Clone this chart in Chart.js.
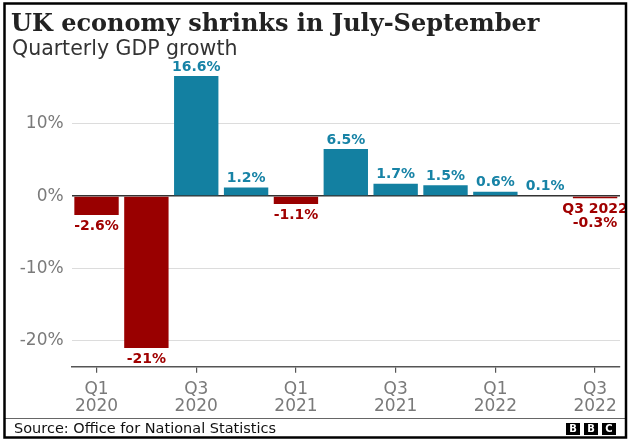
<!DOCTYPE html>
<html>
<head>
<meta charset="utf-8">
<title>UK economy shrinks in July-September</title>
<script src="https://cdn.jsdelivr.net/npm/chart.js@4.4.0/dist/chart.umd.min.js"></script>
<style>
  html, body { margin: 0; padding: 0; background: #fff; }
  canvas { display: block; }
</style>
</head>
<body>
<canvas id="myChart" width="629" height="440"></canvas>
<script>
// quarterly GDP growth, % change on previous quarter
const quarters = ['Q1 2020', 'Q2 2020', 'Q3 2020', 'Q4 2020', 'Q1 2021', 'Q2 2021',
                  'Q3 2021', 'Q4 2021', 'Q1 2022', 'Q2 2022', 'Q3 2022'];
const growth = [-2.6, -21, 16.6, 1.2, -1.1, 6.5, 1.7, 1.5, 0.6, 0.1, -0.3];
const valueLabels = ['-2.6%', '-21%', '16.6%', '1.2%', '-1.1%', '6.5%',
                     '1.7%', '1.5%', '0.6%', '0.1%', '-0.3%'];
const yTicks = [-20, -10, 0, 10];

const BLUE = '#1380A1';
const RED = '#990000';
const BLUE_TEXT = '#1783a6';
const RED_TEXT = '#a00000';

const frame = {
    id: 'frame',
    beforeDraw(chart) {
        const ctx = chart.ctx;
        ctx.save();
        ctx.fillStyle = '#fff';
        ctx.fillRect(0, 0, chart.width, chart.height);
        ctx.restore();
    },
    afterDraw(chart) {
        const ctx = chart.ctx;
        ctx.save();

        // title + subtitle
        ctx.fillStyle = '#222';
        ctx.textBaseline = 'alphabetic';
        ctx.textAlign = 'left';
        ctx.font = 'bold 24px "DejaVu Serif"';
        ctx.fillText('UK economy shrinks in July-September', 11, 31);
        ctx.fillStyle = '#333';
        ctx.font = '20.5px "DejaVu Sans"';
        ctx.fillText('Quarterly GDP growth', 12, 55);

        // value labels
        const meta = chart.getDatasetMeta(0);
        ctx.font = 'bold 14px "DejaVu Sans"';
        ctx.textAlign = 'center';
        meta.data.forEach((bar, i) => {
            const v = growth[i];
            if (v >= 0) {
                ctx.fillStyle = BLUE_TEXT;
                ctx.textBaseline = 'bottom';
                ctx.fillText(valueLabels[i], bar.x, Math.min(bar.y, bar.base) - 2);
            } else {
                ctx.fillStyle = RED_TEXT;
                ctx.textBaseline = 'top';
                let y = Math.max(bar.y, bar.base) + 4;
                if (i === quarters.length - 1) {
                    ctx.fillText(quarters[i], bar.x, y);
                    y += 14;
                }
                ctx.fillText(valueLabels[i], bar.x, y);
            }
        });

        // footer
        ctx.strokeStyle = '#666';
        ctx.lineWidth = 1;
        ctx.beginPath();
        ctx.moveTo(5, 418.5);
        ctx.lineTo(625, 418.5);
        ctx.stroke();

        ctx.fillStyle = '#111';
        ctx.textAlign = 'left';
        ctx.textBaseline = 'alphabetic';
        ctx.font = '14.5px "DejaVu Sans"';
        ctx.fillText('Source: Office for National Statistics', 14, 433);

        ['B', 'B', 'C'].forEach((ch, i) => {
            const x = 566 + i * 18;
            ctx.fillStyle = '#000';
            ctx.fillRect(x, 423, 14, 12);
            ctx.fillStyle = '#fff';
            ctx.font = 'bold 10px "DejaVu Sans"';
            ctx.textAlign = 'center';
            ctx.textBaseline = 'middle';
            ctx.fillText(ch, x + 7, 429.5);
        });

        // border
        ctx.strokeStyle = '#000';
        ctx.lineWidth = 2.5;
        ctx.strokeRect(4.5, 3.5, 621.5, 434);
        ctx.restore();
    }
};

const ctx = document.getElementById('myChart').getContext('2d');

const myChart = new Chart(ctx, {
    type: 'bar',
    data: {
        labels: quarters,
        datasets: [{
            data: growth,
            backgroundColor: growth.map(v => v < 0 ? RED : BLUE),
            borderWidth: 0,
            barPercentage: 0.89,
            categoryPercentage: 1.0
        }]
    },
    options: {
        responsive: false,
        animation: false,
        devicePixelRatio: 1,
        layout: {
            padding: { top: 58, right: 9, bottom: 0, left: 0 }
        },
        plugins: {
            legend: { display: false },
            tooltip: { enabled: false }
        },
        scales: {
            x: {
                grid: {
                    offset: false,
                    drawOnChartArea: false,
                    drawTicks: true,
                    tickLength: 6,
                    lineWidth: 1.2,
                    color: c => c.index % 2 === 0 ? '#555' : 'rgba(0,0,0,0)'
                },
                border: { display: true, color: '#555', width: 1.5 },
                ticks: {
                    autoSkip: false,
                    maxRotation: 0,
                    padding: 9,
                    color: '#7a7a7a',
                    font: { family: 'DejaVu Sans', size: 17, lineHeight: 0.97 },
                    callback: (val, i) => i % 2 === 0 ? quarters[i].split(' ') : ''
                },
                afterFit: scale => { scale.height = 73.3; }
            },
            y: {
                min: -23.6,
                max: 19.1,
                afterBuildTicks: scale => {
                    scale.ticks = yTicks.map(v => ({ value: v }));
                },
                grid: {
                    drawTicks: false,
                    color: c => c.tick && c.tick.value === 0 ? '#333' : '#dcdcdc',
                    lineWidth: c => c.tick && c.tick.value === 0 ? 1.5 : 1
                },
                border: { display: false },
                ticks: {
                    padding: 8,
                    color: '#7a7a7a',
                    font: { family: 'DejaVu Sans', size: 17 },
                    callback: v => v + '%'
                },
                afterFit: scale => { scale.width = 71.6; }
            }
        }
    },
    plugins: [frame]
});
</script>
</body>
</html>
